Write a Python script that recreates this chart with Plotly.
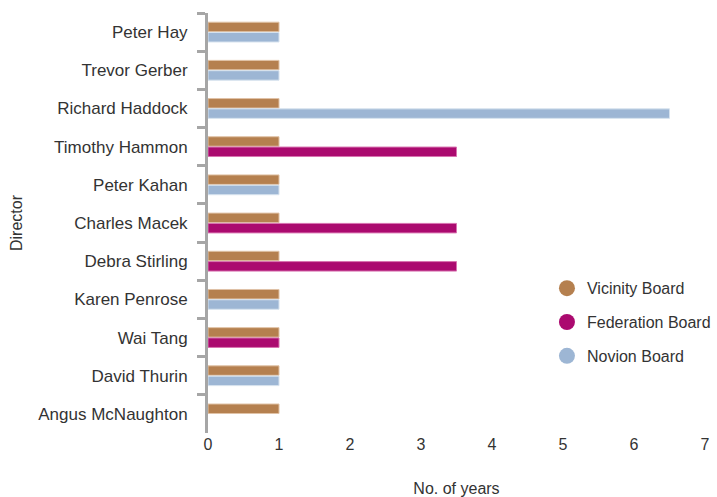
import plotly.graph_objects as go

directors = ["Peter Hay", "Trevor Gerber", "Richard Haddock", "Timothy Hammon", "Peter Kahan",
             "Charles Macek", "Debra Stirling", "Karen Penrose", "Wai Tang", "David Thurin",
             "Angus McNaughton"]
vicinity = [1, 1, 1, 1, 1, 1, 1, 1, 1, 1, 1]
federation = [None, None, None, 3.5, None, 3.5, 3.5, None, 1, None, None]
novion = [1, 1, 6.5, None, 1, None, None, 1, None, 1, None]
x_ticks = [0, 1, 2, 3, 4, 5, 6, 7]

colors = {"Vicinity Board": "#b5804f", "Federation Board": "#ab0a6f", "Novion Board": "#9db6d4"}
edges = {"Vicinity Board": "#e0c2a6", "Federation Board": "#d873b0", "Novion Board": "#d6e2ee"}

FONT = "Liberation Sans, Arial, sans-serif"
TXT = "#333333"
fig = go.Figure()
series = [("Vicinity Board", vicinity, "a"), ("Federation Board", federation, "b"), ("Novion Board", novion, "b")]
for name, vals, grp in series:
    fig.add_trace(go.Bar(y=directors, x=vals, orientation="h", name=name, offsetgroup=grp,
                         marker=dict(color=colors[name], line=dict(color=edges[name], width=1)),
                         showlegend=False))
for name, vals, grp in series:
    fig.add_trace(go.Scatter(x=[None], y=[None], mode="markers", name=name, legendgroup=name,
                             marker=dict(symbol="circle", size=20, color=colors[name]), showlegend=True))

fig.update_layout(
    width=717, height=497,
    margin=dict(l=208, r=12, t=13, b=64, autoexpand=False),
    paper_bgcolor="white", plot_bgcolor="white",
    barmode="group", bargap=0.46, bargroupgap=0.08,
    font=dict(family=FONT, size=16, color=TXT),
    legend=dict(x=0.682, y=0.385, xanchor="left", yanchor="top", font=dict(size=16, color=TXT),
                tracegroupgap=10, itemsizing="trace", bgcolor="rgba(0,0,0,0)"),
    xaxis=dict(range=[0, 7], tickvals=x_ticks, showgrid=False, zeroline=False, showline=False,
               ticks="", tickfont=dict(size=16, color=TXT),
               title=dict(text="No. of years", standoff=30, font=dict(size=16, color=TXT))),
    yaxis=dict(autorange="reversed", categoryorder="array", categoryarray=directors,
               showgrid=False, zeroline=False, showline=True, linecolor="#a6a6a6", linewidth=3,
               ticks="outside", tickson="boundaries", ticklen=8, tickwidth=3, tickcolor="#a6a6a6",
               ticklabelstandoff=14, tickfont=dict(size=17, color=TXT),
               title=dict(text="Director", standoff=12, font=dict(size=16, color=TXT))),
)
fig.write_html("out.html")
